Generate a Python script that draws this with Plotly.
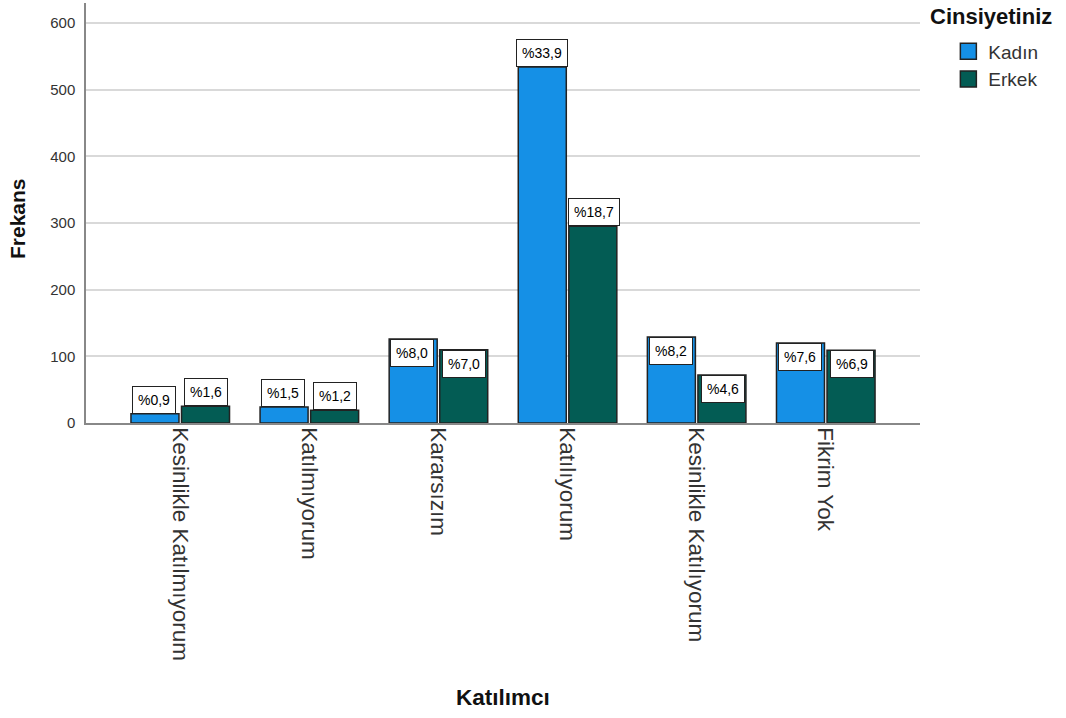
import plotly.graph_objects as go

# Kategoriler ve frekanslar
kategoriler = ["Kesinlikle Katılmıyorum", "Katılmıyorum", "Kararsızım",
               "Katılıyorum", "Kesinlikle Katılıyorum", "Fikrim Yok"]
kadin = [14, 24, 126, 534, 129, 120]
erkek = [25, 19, 110, 295, 72, 109]
kadin_yuzde = ["%0,9", "%1,5", "%8,0", "%33,9", "%8,2", "%7,6"]
erkek_yuzde = ["%1,6", "%1,2", "%7,0", "%18,7", "%4,6", "%6,9"]
# etiket kutusu çubuğun üstünde mi (True) içinde mi (False)
kadin_ustte = [True, True, False, True, False, False]
erkek_ustte = [True, True, False, True, False, False]

MAVI = "#1590e6"
YESIL = "#035c54"
CIZGI = "#222222"
FONT = "Liberation Sans, Arial"

fig = go.Figure()
for ad, vals, renk in [("Kadın", kadin, MAVI), ("Erkek", erkek, YESIL)]:
    fig.add_trace(go.Bar(
        x=kategoriler, y=vals, name=ad, showlegend=False,
        marker=dict(color=renk, line=dict(color=CIZGI, width=1.5))
    ))
    # lejant için büyük kare sembol
    fig.add_trace(go.Scatter(
        x=[None], y=[None], mode="markers", name=ad,
        marker=dict(symbol="square", size=16, color=renk,
                    line=dict(color=CIZGI, width=1.5))
    ))

annots = []
for vals, labels, ustte, shift in [(kadin, kadin_yuzde, kadin_ustte, -26),
                                   (erkek, erkek_yuzde, erkek_ustte, 26)]:
    for k, v, t, u in zip(kategoriler, vals, labels, ustte):
        annots.append(dict(
            x=k, y=v, text=t, showarrow=False, xshift=shift,
            yanchor="bottom" if u else "top",
            bgcolor="white", bordercolor=CIZGI, borderwidth=1, borderpad=5,
            font=dict(family=FONT, size=14, color="black")
        ))

# lejant başlığı ve eksen başlıkları
annots.append(dict(x=1.010, y=0.967, xref="paper", yref="paper",
                   xanchor="left", yanchor="middle", showarrow=False,
                   text="<b>Cinsiyetiniz</b>",
                   font=dict(family=FONT, size=22, color="#111")))
annots.append(dict(x=0.5, y=-274 / 420, xref="paper", yref="paper",
                   xanchor="center", yanchor="middle", showarrow=False,
                   text="<b>Katılımcı</b>",
                   font=dict(family=FONT, size=22.5, color="#111")))
annots.append(dict(x=-68 / 834, y=0.5 - 6 / 420, xref="paper", yref="paper",
                   xanchor="center", yanchor="middle", showarrow=False,
                   textangle=-90, text="<b>Frekans</b>",
                   font=dict(family=FONT, size=21, color="#111")))

fig.update_layout(
    width=1066, height=718,
    margin=dict(l=86, r=146, t=3, b=295, autoexpand=False),
    paper_bgcolor="white", plot_bgcolor="white",
    font=dict(family=FONT, color="black"),
    barmode="group", bargap=0.217, bargroupgap=0.05,
    xaxis=dict(
        range=[-0.73, 5.73], tickangle=90, automargin=False,
        tickfont=dict(size=22.5, color="#333"),
        showline=True, linecolor="#888888", linewidth=1.5, ticks="",
        ticklabelstandoff=-2
    ),
    yaxis=dict(
        range=[0, 630], dtick=100, automargin=False,
        tickfont=dict(size=15, color="#333"), ticklabelstandoff=6,
        showgrid=True, gridcolor="#d9d9d9", gridwidth=2,
        showline=True, linecolor="#888888", linewidth=1.5, zeroline=False
    ),
    legend=dict(
        x=1.034, y=0.93, xanchor="left", yanchor="top",
        font=dict(family=FONT, size=19, color="#333"),
        bgcolor="rgba(0,0,0,0)", itemwidth=30, tracegroupgap=0
    ),
    annotations=annots,
)

fig.write_html("out.html", config={"displayModeBar": False},
               post_script="document.body.style.margin='0px';")
